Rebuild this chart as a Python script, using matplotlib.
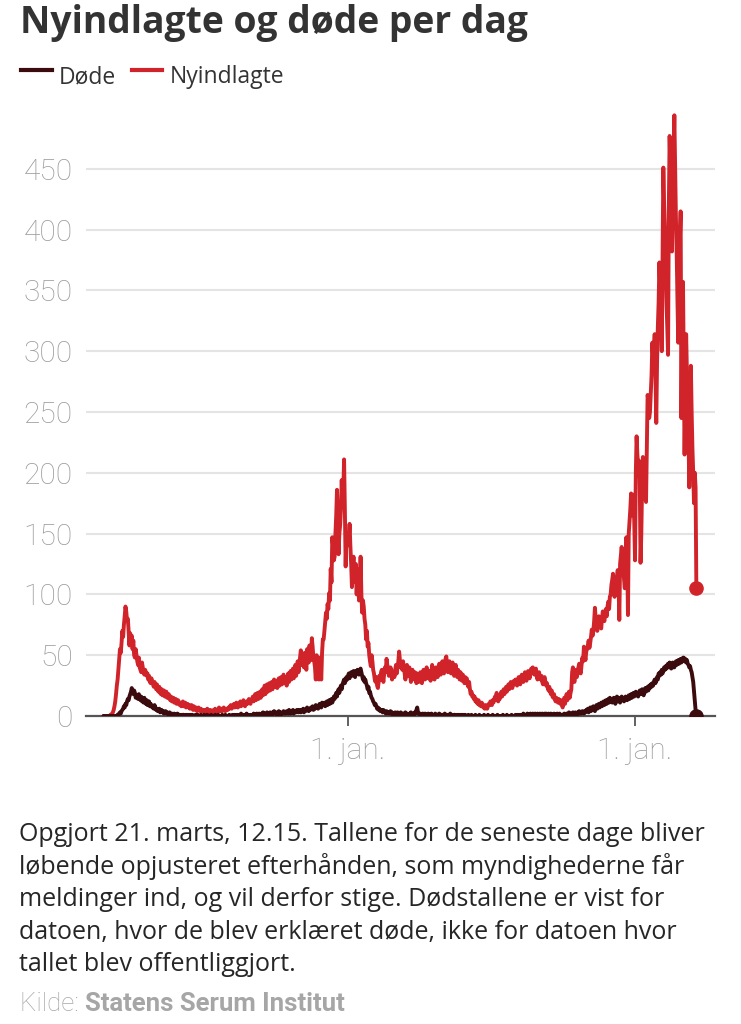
import pandas as pd
import matplotlib
matplotlib.use("Agg")
import matplotlib.pyplot as plt
import matplotlib.dates as mdates
from matplotlib.lines import Line2D

# ─────────────────────────────────────────────
# Data: daily values, last day = 20 March 2022
# ─────────────────────────────────────────────
LAST_DAY = "2022-03-20"

nyindlagte = [
    0, 0, 0, 0, 0,                                                      # feb 20
    0, 0, 0, 0, 1, 1, 2, 3, 5, 8, 12, 18, 25, 30, 38, 45, 55, 52, 60, 70,
    65, 75, 82, 90, 86, 78, 80, 70, 58, 68, 60,                         # mar 20
    66, 55, 62, 50, 48, 55, 50, 45, 42, 48, 40, 38, 36, 44, 40, 36, 34, 38, 36, 33,
    35, 30, 33, 28, 27, 31, 28, 26, 24, 28,                             # apr 20
    25, 22, 26, 21, 20, 24, 19, 18, 22, 17, 18, 21, 16, 17, 20, 15, 16, 18, 14, 13,
    16, 12, 13, 15, 11, 12, 14, 10, 11, 13, 10,                         # maj 20
    9, 11, 8, 9, 12, 8, 9, 11, 7, 8, 10, 7, 9, 6, 7, 9, 6, 5, 8, 6,
    5, 7, 4, 5, 7, 5, 4, 6, 4, 5,                                       # jun 20
    4, 3, 5, 4, 3, 6, 4, 3, 4, 5, 3, 4, 3, 5, 4, 6, 4, 3, 4, 5,
    7, 4, 5, 6, 4, 5, 7, 6, 4, 5, 6,                                    # jul 20
    5, 7, 6, 8, 9, 6, 7, 8, 10, 7, 9, 11, 8, 7, 9, 10, 12, 8, 9, 11,
    13, 9, 8, 10, 12, 10, 12, 14, 11, 10, 13,                           # aug 20
    14, 16, 12, 15, 18, 13, 15, 19, 14, 17, 20, 15, 18, 22, 17, 19, 25, 18, 21, 26,
    20, 22, 27, 21, 24, 28, 22, 25, 30, 24,                             # sep 20
    26, 29, 23, 27, 31, 25, 29, 32, 26, 30, 34, 27, 31, 29, 25, 32, 35, 28, 33, 37,
    30, 35, 39, 31, 36, 42, 33, 38, 45, 36, 41,                         # okt 20
    48, 54, 42, 50, 45, 40, 52, 47, 38, 55, 50, 44, 58, 52, 46, 64, 57, 48, 45, 40,
    30, 50, 45, 38, 30, 48, 35, 30, 52, 63,                             # nov 20
    63, 70, 78, 85, 80, 92, 88, 101, 95, 121, 110, 147, 140, 128, 131, 150, 165, 186, 160, 133,
    150, 157, 170, 194, 175, 185, 211, 170, 123, 150, 140,              # dec 20
    150, 145, 158, 140, 125, 106, 120, 131, 115, 110, 125, 100, 121, 110, 95, 105, 131, 100, 85, 95,
    90, 80, 75, 63, 70, 57, 60, 50, 45, 41, 50,                         # jan 21
    45, 38, 35, 30, 28, 32, 25, 23, 28, 33, 30, 36, 38, 32, 28, 35, 40, 36, 47, 42,
    38, 33, 36, 40, 38, 30, 34, 36,                                     # feb 21
    32, 38, 42, 35, 40, 45, 53, 46, 40, 44, 38, 45, 40, 35, 30, 38, 42, 36, 33, 40,
    35, 28, 34, 38, 32, 30, 36, 33, 27, 35, 30,                         # mar 21
    28, 33, 36, 30, 27, 34, 38, 32, 30, 35, 40, 34, 31, 37, 33, 29, 35, 42, 38, 34,
    30, 36, 40, 35, 32, 38, 43, 36, 34, 40,                             # apr 21
    45, 38, 35, 42, 47, 49, 40, 36, 42, 45, 38, 35, 40, 44, 37, 33, 39, 42, 36, 32,
    38, 35, 30, 36, 33, 29, 34, 31, 27, 32, 29,                         # maj 21
    31, 26, 24, 28, 22, 18, 20, 16, 17, 14, 16, 12, 14, 11, 10, 13, 9, 10, 8, 11,
    10, 7, 8, 6, 9, 7, 6, 8, 10, 9,                                     # jun 21
    12, 10, 9, 13, 11, 14, 16, 13, 19, 15, 12, 17, 14, 18, 20, 16, 19, 22, 18, 21,
    24, 20, 23, 26, 22, 24, 28, 25, 23, 27, 29,                         # jul 21
    26, 30, 27, 25, 29, 32, 28, 26, 31, 34, 30, 28, 33, 36, 31, 29, 34, 37, 33, 31,
    36, 39, 35, 40, 38, 34, 37, 39, 33, 30, 34,                         # aug 21
    36, 32, 30, 33, 28, 26, 30, 32, 28, 25, 27, 23, 21, 24, 20, 18, 21, 16, 15, 18,
    14, 12, 15, 13, 11, 14, 12, 10, 13, 9,                              # sep 21
    7, 12, 15, 10, 14, 18, 13, 16, 20, 15, 19, 22, 36, 40, 30, 28, 33, 38, 32, 36,
    40, 43, 37, 35, 42, 48, 45, 57, 50, 46, 53,                         # okt 21
    55, 58, 62, 56, 60, 65, 71, 66, 70, 78, 89, 80, 74, 70, 76, 82, 78, 75, 72, 80,
    86, 82, 78, 85, 88, 82, 90, 94, 88, 98,                             # nov 21
    100, 108, 112, 117, 104, 98, 110, 105, 115, 120, 110, 79, 125, 132, 139, 128, 120, 112, 105, 130,
    147, 135, 83, 150, 160, 170, 183, 165, 175, 182, 160,               # dec 21
    128, 200, 230, 215, 205, 210, 195, 126, 150, 190, 213, 200, 190, 180, 176, 220, 264, 260, 245, 250,
    265, 280, 307, 295, 300, 314, 280, 241, 290, 320, 340,              # jan 22
    373, 350, 330, 300, 380, 451, 420, 400, 370, 340, 320, 297, 420, 477, 450, 420, 382, 430, 460, 494,
    450, 410, 380, 340, 307, 360, 390, 415,                             # feb 22
    245, 330, 357, 290, 215, 260, 314, 280, 250, 230, 188, 240, 288, 250, 220, 200, 175, 200, 188, 105,
]

doede = [
    0, 0, 0, 0, 0,                                                      # feb 20
    0, 0, 0, 0, 0, 0, 0, 0, 0, 0, 0, 0, 0, 1, 1, 2, 3, 2, 4, 5,
    6, 8, 7, 10, 9, 12, 14, 13, 16, 18, 20,                             # mar 20
    23, 20, 18, 21, 19, 15, 17, 16, 14, 18, 15, 13, 16, 12, 14, 11, 15, 12, 10, 13,
    9, 11, 12, 8, 10, 9, 7, 8, 6, 9,                                    # apr 20
    7, 5, 6, 4, 5, 6, 3, 4, 5, 3, 4, 2, 3, 4, 2, 3, 2, 1, 3, 2,
    1, 2, 1, 1, 2, 1, 0, 1, 2, 1, 1,                                    # maj 20
    1, 0, 1, 0, 1, 1, 0, 0, 1, 0, 1, 0, 0, 1, 0, 0, 1, 0, 0, 0,
    1, 0, 0, 1, 0, 0, 0, 1, 0, 0,                                       # jun 20
    0, 1, 0, 0, 0, 1, 0, 0, 0, 0, 1, 0, 0, 0, 0, 1, 0, 0, 0, 1,
    0, 0, 0, 0, 1, 0, 0, 0, 1, 0, 0,                                    # jul 20
    0, 0, 1, 0, 0, 0, 1, 0, 0, 1, 0, 0, 1, 0, 0, 1, 0, 2, 0, 0,
    1, 0, 1, 0, 2, 0, 1, 0, 0, 1, 0,                                    # aug 20
    1, 0, 2, 1, 0, 1, 2, 0, 1, 2, 1, 0, 2, 1, 3, 1, 2, 0, 2, 3,
    1, 2, 1, 3, 2, 1, 3, 2, 4, 2,                                       # sep 20
    2, 3, 1, 2, 4, 2, 3, 1, 2, 3, 4, 2, 3, 2, 4, 3, 2, 5, 3, 2,
    4, 3, 5, 2, 3, 4, 3, 5, 4, 3, 5,                                    # okt 20
    4, 3, 5, 4, 6, 3, 5, 4, 6, 7, 5, 4, 6, 5, 7, 6, 8, 5, 7, 6,
    9, 7, 8, 6, 9, 10, 8, 7, 11, 9,                                     # nov 20
    9, 11, 8, 10, 12, 9, 11, 13, 10, 12, 14, 11, 13, 16, 14, 17, 19, 16, 20, 22,
    19, 23, 25, 22, 26, 28, 30, 27, 29, 32, 30,                         # dec 20
    33, 35, 31, 34, 36, 33, 35, 37, 34, 32, 37, 35, 38, 36, 34, 38, 39, 36, 33, 30,
    32, 28, 30, 27, 25, 22, 24, 19, 20, 17, 15,                         # jan 21
    14, 12, 11, 9, 10, 8, 6, 7, 5, 6, 4, 5, 4, 3, 5, 4, 3, 2, 4, 3,
    2, 3, 2, 4, 2, 3, 1, 2,                                             # feb 21
    2, 3, 1, 2, 3, 1, 2, 1, 3, 2, 1, 2, 1, 2, 3, 1, 2, 1, 1, 2,
    1, 3, 2, 1, 2, 1, 3, 2, 5, 7, 3,                                    # mar 21
    2, 1, 2, 1, 0, 2, 1, 1, 2, 1, 0, 1, 2, 1, 1, 0, 2, 1, 1, 0,
    1, 2, 1, 0, 1, 1, 2, 0, 1, 1,                                       # apr 21
    1, 0, 1, 2, 0, 1, 1, 0, 1, 0, 2, 1, 0, 1, 0, 1, 1, 0, 0, 1,
    0, 1, 0, 0, 1, 0, 1, 0, 0, 1, 0,                                    # maj 21
    0, 0, 1, 0, 0, 0, 1, 0, 0, 0, 0, 1, 0, 0, 0, 0, 1, 0, 0, 0,
    0, 0, 1, 0, 0, 0, 0, 1, 0, 0,                                       # jun 21
    0, 0, 0, 1, 0, 0, 0, 0, 0, 1, 0, 0, 0, 0, 0, 0, 1, 0, 0, 0,
    0, 1, 0, 0, 0, 0, 0, 1, 0, 0, 0,                                    # jul 21
    0, 1, 0, 0, 1, 0, 0, 1, 0, 1, 0, 2, 0, 1, 0, 1, 2, 0, 1, 1,
    2, 0, 1, 2, 1, 0, 2, 1, 1, 2, 1,                                    # aug 21
    1, 2, 1, 0, 2, 1, 1, 2, 1, 2, 0, 1, 2, 1, 1, 2, 1, 0, 1, 2,
    1, 1, 0, 2, 1, 1, 2, 1, 0, 1,                                       # sep 21
    1, 0, 2, 1, 1, 2, 0, 1, 3, 1, 2, 1, 2, 3, 1, 2, 3, 2, 1, 3,
    2, 4, 2, 3, 2, 4, 3, 2, 4, 3, 5,                                    # okt 21
    4, 6, 3, 5, 7, 4, 7, 5, 8, 6, 4, 7, 9, 6, 8, 10, 7, 9, 11, 8,
    10, 12, 9, 11, 13, 10, 12, 14, 11, 15,                              # nov 21
    12, 14, 11, 13, 15, 12, 10, 14, 16, 12, 15, 13, 11, 14, 16, 13, 15, 12, 14, 16,
    14, 13, 15, 17, 14, 16, 18, 15, 17, 19, 16,                         # dec 21
    18, 20, 17, 19, 16, 19, 21, 18, 20, 22, 19, 17, 21, 23, 20, 22, 24, 21, 25, 23,
    26, 24, 27, 25, 28, 30, 27, 29, 32, 30, 35,                         # jan 22
    33, 36, 34, 38, 35, 37, 40, 38, 41, 39, 42, 43, 40, 44, 41, 39, 42, 44, 40, 40,
    43, 45, 42, 44, 46, 43, 45, 47,                                     # feb 22
    44, 46, 48, 48, 45, 47, 44, 46, 43, 42, 40, 41, 38, 36, 32, 28, 20, 12, 5, 0,
]

Y_TICKS = [0, 50, 100, 150, 200, 250, 300, 350, 400, 450]
X_TICKS = ["2021-01-01", "2022-01-01"]
X_TICK_LABELS = ["1. jan.", "1. jan."]

FOOTNOTE = [
    "Opgjort 21. marts, 12.15. Tallene for de seneste dage bliver",
    "løbende opjusteret efterhånden, som myndighederne får",
    "meldinger ind, og vil derfor stige. Dødstallene er vist for",
    "datoen, hvor de blev erklæret døde, ikke for datoen hvor",
    "tallet blev offentliggjort.",
]

RED = "#d1232a"
DARK = "#3b0b0e"
GREY = "#9a9a9a"

# ─────────────────────────────────────────────
# Figure
# ─────────────────────────────────────────────
W, H = 741, 1024
fig = plt.figure(figsize=(W / 100, H / 100), dpi=100)
fig.patch.set_facecolor("white")

def fx(px):
    return px / W

def fy(py):
    return 1 - py / H

ax = fig.add_axes([fx(86), fy(716), fx(715) - fx(86), fy(108) - fy(716)])

dates_red = pd.date_range(end=LAST_DAY, periods=len(nyindlagte), freq="D")
dates_dark = pd.date_range(end=LAST_DAY, periods=len(doede), freq="D")

ax.plot(dates_red, nyindlagte, color=RED, lw=2.8, zorder=3,
        solid_joinstyle="round", solid_capstyle="round")
ax.plot(dates_dark, doede, color=DARK, lw=2.8, zorder=4,
        solid_joinstyle="round", solid_capstyle="round")
ax.plot(dates_red[-1:], nyindlagte[-1:], "o", color=RED, ms=9.5, zorder=5)
ax.plot(dates_dark[-1:], doede[-1:], "o", color=DARK, ms=9.5, zorder=5)

# axes: 0.7863 px per day, 2021-01-01 sits at x=348 px
jan21 = mdates.date2num(pd.Timestamp("2021-01-01"))
ax.set_xlim(jan21 - 333.2, jan21 + 466.7)
ax.set_ylim(0, 500)

ax.set_yticks(Y_TICKS)
ax.set_xticks([mdates.date2num(pd.Timestamp(d)) for d in X_TICKS])
ax.set_xticklabels(X_TICK_LABELS)

ax.grid(axis="y", color="#e4e4e4", lw=1.5, zorder=0)
ax.set_axisbelow(True)
for s in ["top", "right", "left"]:
    ax.spines[s].set_visible(False)
ax.spines["bottom"].set_color("#555555")
ax.spines["bottom"].set_linewidth(1.6)

tick_font = dict(family=["Roboto", "DejaVu Sans"], weight="light", size=21.5)
ax.tick_params(axis="y", length=0, pad=9.5, labelcolor=GREY)
ax.tick_params(axis="x", length=7, width=1.3, color="#555555",
               pad=8, labelcolor=GREY)
for lab in ax.get_yticklabels() + ax.get_xticklabels():
    lab.set_fontproperties(tick_font)

# ─────────────────────────────────────────────
# Title, legend, notes
# ─────────────────────────────────────────────
fig.text(fx(20), fy(33.5), "Nyindlagte og døde per dag", family="Open Sans",
         weight="bold", size=26.8, color="#333333", va="baseline")

fig.add_artist(Line2D([fx(21), fx(52)], [fy(70), fy(70)], color=DARK, lw=3))
fig.add_artist(Line2D([fx(132), fx(162)], [fy(70), fy(70)], color=RED, lw=3))
leg_font = dict(family="Open Sans", size=16.5, color="#333333", va="baseline")
fig.text(fx(59), fy(83), "Døde", **leg_font)
fig.text(fx(170), fy(83), "Nyindlagte", **leg_font)

for i, line in enumerate(FOOTNOTE):
    fig.text(fx(19), fy(841 + 32.6 * i), line, family="Open Sans", size=18,
             color="#262626", va="baseline")

kilde = fig.text(fx(20), fy(1011), "Kilde: ", family=["Roboto", "DejaVu Sans"],
                 weight="light", size=18.5, color="#a6a6a6", va="baseline")
fig.canvas.draw()
bb = kilde.get_window_extent()
fig.text(bb.x1 / W, fy(1011), "Statens Serum Institut",
         family=["Roboto", "DejaVu Sans"], weight="bold", size=18.5,
         color="#a6a6a6", va="baseline")

fig.savefig("out.png", dpi=100, facecolor="white")
